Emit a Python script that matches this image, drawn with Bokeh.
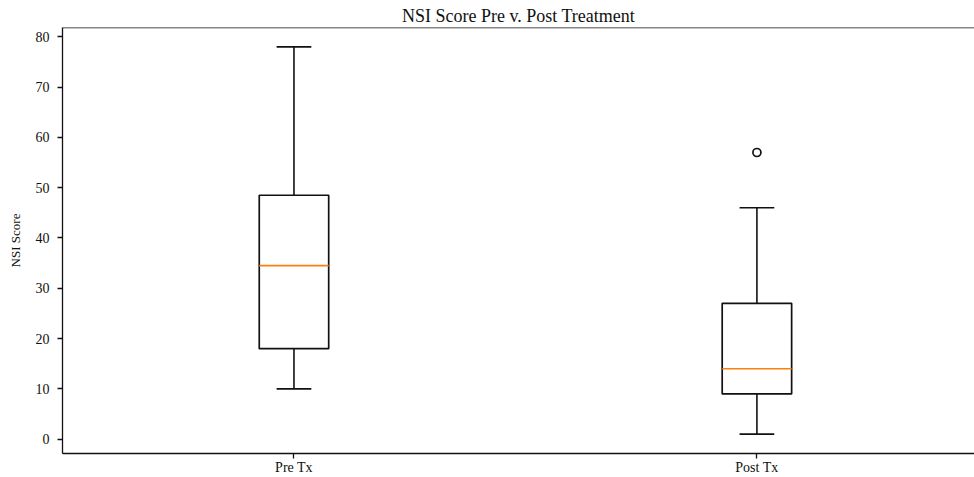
from bokeh.plotting import figure
from bokeh.models import Range1d, FixedTicker, Span
from bokeh.embed import file_html
from bokeh.resources import INLINE

categories = ["Pre Tx", "Post Tx"]
whisker_low = [10, 1]
q1 = [18, 9]
median = [34.5, 14]
q3 = [48.5, 27]
whisker_high = [78, 46]
outlier_cat = [1]
outlier_val = [57]

positions = [i + 1 for i in range(len(categories))]
box_w = 0.15
cap_w = 0.075

FONT = "Liberation Serif"
INK = "#111111"

p = figure(width=974, height=477, output_backend="svg", toolbar_location=None,
           x_range=Range1d(0.5, 2.47), y_range=Range1d(-2.85, 81.85),
           min_border_left=62, min_border_right=0, min_border_top=27, min_border_bottom=22,
           title="NSI Score Pre v. Post Treatment")

p.title.text_font = FONT
p.title.text_font_size = "18px"
p.title.text_font_style = "normal"
p.title.text_color = INK
p.title.align = "center"
p.title.standoff = 3

p.outline_line_color = None
p.xgrid.grid_line_color = None
p.ygrid.grid_line_color = None
p.background_fill_color = "white"
p.border_fill_color = "white"

top_line = Span(location=81.85, dimension="width", line_color=INK, line_width=1.3)
p.add_layout(top_line)

lefts = [x - box_w / 2 for x in positions]
rights = [x + box_w / 2 for x in positions]
p.quad(left=lefts, right=rights, bottom=q1, top=q3, fill_color=None,
       line_color=INK, line_width=1.7)
p.segment(x0=positions, y0=q3, x1=positions, y1=whisker_high, line_color=INK, line_width=1.6)
p.segment(x0=positions, y0=whisker_low, x1=positions, y1=q1, line_color=INK, line_width=1.6)
p.segment(x0=[x - cap_w / 2 for x in positions], y0=whisker_high,
          x1=[x + cap_w / 2 for x in positions], y1=whisker_high, line_color=INK, line_width=1.6)
p.segment(x0=[x - cap_w / 2 for x in positions], y0=whisker_low,
          x1=[x + cap_w / 2 for x in positions], y1=whisker_low, line_color=INK, line_width=1.6)
p.segment(x0=lefts, y0=median, x1=rights, y1=median, line_color="#ff7f0e", line_width=1.6)
p.scatter(x=[positions[c] for c in outlier_cat], y=outlier_val, marker="circle", size=8,
          fill_color=None, line_color=INK, line_width=1.7)

p.xaxis.ticker = FixedTicker(ticks=positions)
p.xaxis.major_label_overrides = {pos: c for pos, c in zip(positions, categories)}
p.yaxis.ticker = FixedTicker(ticks=list(range(0, 81, 10)))

for ax in (p.xaxis, p.yaxis):
    ax.axis_line_color = INK
    ax.axis_line_width = 1.3
    ax.major_tick_line_color = INK
    ax.major_tick_line_width = 1.3
    ax.major_tick_out = 5
    ax.major_tick_in = 0
    ax.minor_tick_line_color = None
    ax.major_label_text_font = FONT
    ax.major_label_text_font_size = "14px"
    ax.major_label_text_color = INK

p.xaxis.major_label_standoff = 1
p.yaxis.major_label_standoff = 8
p.yaxis.axis_label = "NSI Score"
p.yaxis.axis_label_text_font = FONT
p.yaxis.axis_label_text_font_size = "13px"
p.yaxis.axis_label_text_font_style = "normal"
p.yaxis.axis_label_text_color = INK
p.yaxis.axis_label_standoff = 10

open("out.html", "w").write(file_html(p, INLINE))
